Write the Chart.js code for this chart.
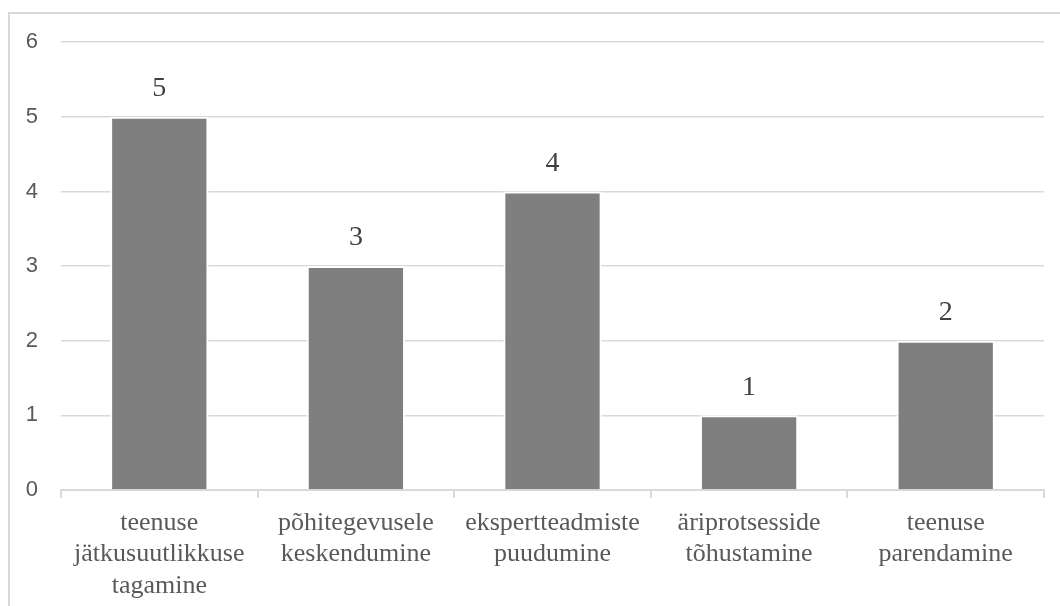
<!DOCTYPE html>
<html>
<head>
<meta charset="utf-8">
<script src="https://cdn.jsdelivr.net/npm/chart.js@4"></script>
<style>
  html, body { margin: 0; padding: 0; width: 1060px; height: 606px; overflow: hidden; background: #fff; }
  #frame { position: absolute; left: 8px; top: 12px; width: 1060px; height: 606px; border: 2px solid #d9d9d9; background: #fff; }
  #wrap { position: absolute; left: 0; top: -8px; width: 1050px; height: 600px; }
</style>
</head>
<body>
<div id="frame"><div id="wrap"><canvas id="c"></canvas></div></div>
<script>
const categories = [
  ['teenuse', 'jätkusuutlikkuse', 'tagamine'],
  ['põhitegevusele', 'keskendumine'],
  ['ekspertteadmiste', 'puudumine'],
  ['äriprotsesside', 'tõhustamine'],
  ['teenuse', 'parendamine']
];
const values = [5, 3, 4, 1, 2];
const yTicks = [0, 1, 2, 3, 4, 5, 6];

// Writes each bar's value just above the bar.
const valueLabels = {
  id: 'valueLabels',
  afterDatasetsDraw(chart) {
    const ctx = chart.ctx;
    const meta = chart.getDatasetMeta(0);
    ctx.save();
    ctx.font = '28px "Liberation Serif", "Times New Roman", serif';
    ctx.fillStyle = '#404040';
    ctx.textAlign = 'center';
    ctx.textBaseline = 'middle';
    meta.data.forEach((bar, i) => {
      ctx.fillText(String(values[i]), bar.x, bar.y - 28);
    });
    ctx.restore();
  }
};

new Chart(document.getElementById('c'), {
  type: 'bar',
  data: {
    labels: categories,
    datasets: [{
      data: values,
      backgroundColor: '#7f7f7f',
      borderColor: '#ffffff',
      borderWidth: 2,
      borderSkipped: 'start',
      barPercentage: 0.5,
      categoryPercentage: 1.0
    }]
  },
  options: {
    responsive: true,
    maintainAspectRatio: false,
    animation: false,
    layout: { padding: { top: 19, right: 16, left: 0, bottom: 0 } },
    plugins: { legend: { display: false }, tooltip: { enabled: false } },
    scales: {
      x: {
        offset: true,
        grid: {
          offset: true,
          drawOnChartArea: false,
          drawTicks: true,
          tickLength: 8,
          color: '#d9d9d9',
          lineWidth: 2
        },
        border: { display: true, color: '#d9d9d9', width: 2 },
        ticks: {
          maxRotation: 0,
          autoSkip: false,
          padding: 9,
          color: '#595959',
          font: { family: '"Liberation Serif", "Times New Roman", serif', size: 26, lineHeight: 1.22 }
        },
        afterFit(scale) { scale.height = 116; }
      },
      y: {
        min: 0,
        max: 6,
        afterBuildTicks(scale) { scale.ticks = yTicks.map(v => ({ value: v })); },
        grid: { color: '#d9d9d9', lineWidth: 1.5, drawTicks: false },
        border: { display: false },
        ticks: {
          padding: 23,
          color: '#595959',
          font: { family: '"Liberation Sans", Arial, sans-serif', size: 22 }
        },
        afterFit(scale) { scale.width = 51; }
      }
    }
  },
  plugins: [valueLabels]
});
</script>
</body>
</html>
